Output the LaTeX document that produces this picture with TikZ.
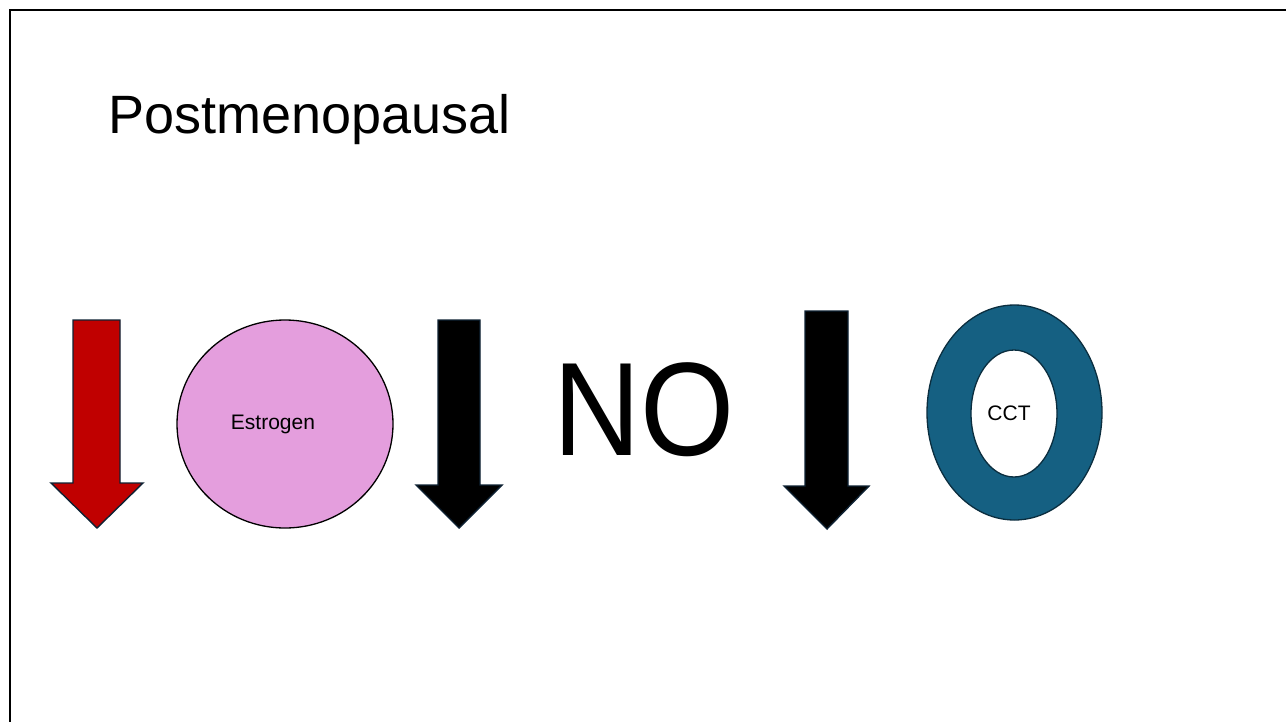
\documentclass[tikz,border=0pt]{standalone}
\usepackage{fontspec}
\setmainfont{Liberation Sans}
\usetikzlibrary{shapes.geometric}
\definecolor{downred}{HTML}{C00000}
\definecolor{shapeedge}{HTML}{0E2233}
\definecolor{pinkfill}{HTML}{E49EDD}
\definecolor{ringteal}{HTML}{156082}
\definecolor{ringedge}{HTML}{0B2E3F}
\tikzset{
  frameline/.style={line width=2pt, black},
  fatarrow/.style={draw=shapeedge, line width=1.4pt, line join=miter},
  label/.style={inner sep=0pt, font=\fontsize{21}{25}\selectfont},
}
\begin{document}
\begin{tikzpicture}[x=1pt, y=-1pt]
\useasboundingbox (0,0) rectangle (1286,721);
\fill[white] (0,0) rectangle (1286,721);

% slide frame, cut at the right and bottom edges
\draw[frameline] (10,722) -- (10,10) -- (1287,10);

% title
\node[anchor=base west, inner sep=0pt, font=\fontsize{54}{60}\selectfont] (title) at (108,133) {Postmenopausal};

% red down arrow
\draw[fatarrow, fill=downred] (73,320) -- (120,320) -- (120,483) -- (143,483) -- (97,528) -- (51,483) -- (73,483) -- cycle;

% estrogen disc
\node[ellipse, draw=black, line width=1.3pt, fill=pinkfill, minimum width=216pt, minimum height=208pt, inner sep=0pt] (estrogen) at (285,424) {};
\node[label] (estrogentext) at (273,424) {Estrogen};

% black down arrow, first
\draw[fatarrow, fill=black] (438,320) -- (480,320) -- (480,485) -- (502,485) -- (459,528) -- (416,485) -- (438,485) -- cycle;

% NO
\node[anchor=base, inner sep=0pt] (no) at (644,455) {\scalebox{0.91}[1]{\fontsize{133}{140}\selectfont NO}};

% black down arrow, second
\draw[fatarrow, fill=black] (805,311) -- (848,311) -- (848,486) -- (869,486) -- (827,529) -- (784,486) -- (805,486) -- cycle;

% CCT ring
\coordinate (ring) at (1014.5,412.5);
\coordinate (hole) at (1014,413.5);
\fill[ringteal, even odd rule] (ring) ellipse [x radius=87.5, y radius=107.5] (hole) ellipse [x radius=43, y radius=63.5];
\draw[ringedge, line width=1.3pt] (ring) ellipse [x radius=87.5, y radius=107.5];
\draw[ringedge, line width=1.3pt] (hole) ellipse [x radius=43, y radius=63.5];
\node[label] (ccttext) at (1009,413) {CCT};
\end{tikzpicture}
\end{document}
